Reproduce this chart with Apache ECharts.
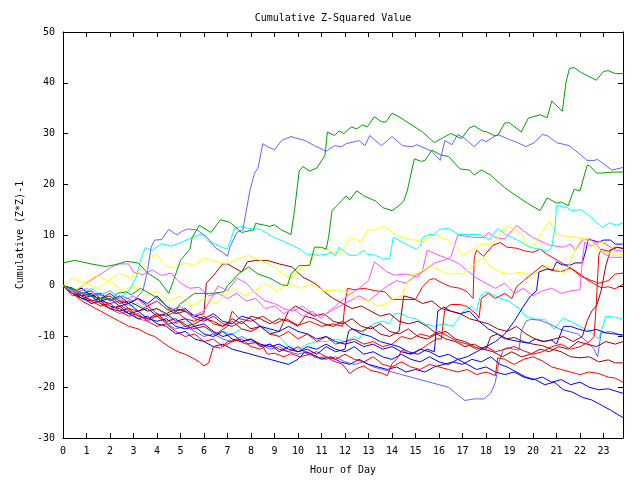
<!DOCTYPE html>
<html><head><meta charset="utf-8">
<script src="https://cdn.jsdelivr.net/npm/echarts@6/dist/echarts.min.js"></script>
<style>html,body{margin:0;padding:0;background:#fff}#c{width:640px;height:480px}</style>
</head><body><div id="c"></div>
<script>
const titleText = "Cumulative Z-Squared Value";
const xName = "Hour of Day";
const yName = "Cumulative (Z*Z)-1";
const xTicks = [0,1,2,3,4,5,6,7,8,9,10,11,12,13,14,15,16,17,18,19,20,21,22,23];
const yTicks = [-30,-20,-10,0,10,20,30,40,50];

const G1 = [[0,4.5],[0.5,5],[1.2,4.3],[1.8,3.8],[2.3,4.2],[2.7,4.8],[3.2,4.5],[3.6,2.5],[4.1,1],[4.5,-1.5],[4.7,1],[5.0,5],[5.4,7.2],[5.5,9.5],[5.8,11.9],[6.3,10.5],[6.7,13],[7.1,12.5],[7.6,10.5],[8.1,11],[8.2,12.3],[8.8,11.7],[9.0,12],[9.3,11],[9.7,10.1],[9.85,14.8],[10.05,22.6],[10.2,23.5],[10.5,22.6],[10.8,23.2],[11.05,25],[11.15,25.7],[11.25,30.3],[11.55,29.6],[11.75,30.5],[11.95,30],[12.27,31.3],[12.5,30.9],[12.75,31.7],[12.95,31.3],[13.25,33.3],[13.55,32.3],[13.75,32.3],[14.0,34],[14.3,33.3],[15.3,30.3],[15.8,28.2],[16.1,29],[16.5,30],[16.95,29],[17.3,31.1],[17.5,31.5],[17.85,30.5],[18.05,30.3],[18.35,29.6],[18.5,29.6],[18.8,32.1],[19.0,32.1],[19.5,30.3],[19.8,33],[20.3,33.7],[20.6,33.1],[20.8,36.4],[21.25,34.4],[21.4,40],[21.55,42.8],[21.75,43],[22.05,42],[22.7,40.5],[23.0,42.2],[23.2,42.4],[23.5,41.8],[23.83,41.8]];
const G2 = [[0,0],[0.5,-0.8],[0.9,-1.5],[1.5,-2.5],[2.1,-2.7],[2.3,-1.5],[2.7,-1.2],[2.9,-1.8],[3.3,-0.5],[3.9,-2.1],[4.3,-3.5],[4.75,-5.6],[4.95,-3.7],[5.25,-2.7],[5.6,-1.5],[6.35,-1.5],[6.85,-1.2],[7.0,0],[7.5,2.5],[7.9,3.7],[8.3,2.3],[8.8,1.5],[9.3,0.2],[9.55,0],[9.7,2.3],[10.05,4],[10.5,4],[10.7,7.6],[11.0,7.6],[11.2,7.2],[11.3,9.5],[11.45,14.8],[11.7,16],[12.05,17.7],[12.2,16.9],[12.5,18.7],[12.8,17.7],[13.3,16.7],[13.6,15.4],[14.0,14.8],[14.3,15.8],[14.5,16.7],[14.65,18.7],[14.95,25],[15.0,25],[15.25,24.5],[15.4,24.7],[15.7,26.7],[16.1,25.7],[16.4,25.5],[16.9,23],[17.3,22.8],[17.5,21.8],[17.8,22.8],[18.2,21.8],[18.8,19.3],[19.3,17.7],[19.75,16.3],[20.3,14.8],[20.6,17.3],[21.0,16.3],[21.2,16.5],[21.5,15.8],[21.75,19],[22.0,18.7],[22.3,23.7],[22.4,23.7],[22.7,22.2],[22.9,22.2],[23.4,22.4],[23.83,22.4]];
const LB1 = [[0,0],[0.5,-1],[1,-2],[1.5,-1.5],[2,-3],[2.5,-2],[3,-3],[3.4,-1],[3.6,3],[3.75,7.6],[3.9,9],[4.2,9.1],[4.5,11.1],[4.85,10],[5.05,10.7],[5.3,11.2],[5.7,11],[6.1,9.7],[6.5,7.4],[6.8,6.6],[7.0,5.8],[7.1,7.6],[7.4,10.5],[7.65,11],[7.8,14.8],[7.95,18.7],[8.15,22.2],[8.3,23.2],[8.5,28],[8.7,27.4],[9.0,26.8],[9.3,28.6],[9.7,29.4],[10.3,28.6],[10.7,27.6],[11.2,26.5],[11.55,27.6],[11.85,27.4],[12.05,28],[12.6,28.6],[12.85,27.6],[13.05,29.6],[13.55,27.6],[14.0,29.4],[14.45,27.6],[14.85,27.4],[15.05,27.8],[15.7,26.5],[16.05,24.7],[16.25,28.6],[16.55,27.8],[16.8,29.8],[17.1,29],[17.5,27.4],[17.8,28.8],[18.0,28.4],[18.5,29.8],[19.0,28.8],[19.35,28.2],[19.7,27.4],[20.05,28.2],[20.4,29.8],[20.6,29.6],[21.0,28.2],[21.55,27.6],[22.05,25.7],[22.3,24.7],[22.6,24.7],[22.75,24.9],[23.15,23.5],[23.35,22.8],[23.83,23.3]];
const C1 = [[0,0],[0.4,-1],[0.8,-1.5],[1.2,-0.5],[1.6,-2],[2.0,-1],[2.4,-2.5],[2.8,-1],[3.1,1.5],[3.3,5],[3.5,7.5],[3.8,7],[4.2,8.3],[4.6,7.8],[5.0,8.5],[5.5,9.5],[5.9,10.2],[6.2,8.7],[6.5,8.2],[6.8,7.5],[7.0,7.2],[7.3,11.3],[7.6,11.7],[7.9,11.3],[8.4,11.1],[8.8,10],[9.2,9.1],[9.65,8.2],[10.1,7.2],[10.35,6.2],[10.6,6.2],[10.8,6],[11.2,6.2],[11.4,6.6],[11.6,6],[11.75,7.6],[11.9,7],[12.2,6],[12.5,6],[12.8,7],[12.95,6.2],[13.3,6],[13.6,5.3],[13.9,5.3],[14.05,9.5],[14.25,9.1],[14.6,8.2],[15.05,7.2],[15.2,7.9],[15.3,9.5],[15.6,10.1],[15.8,10.1],[16.0,11.1],[16.4,11.3],[16.85,10.1],[17.3,10.1],[17.7,10.1],[18.15,9.1],[18.5,11.3],[18.85,10.1],[19.3,9.1],[19.65,8.2],[19.85,7.6],[20.3,7.2],[20.6,6.8],[20.8,7.6],[20.95,12],[21.0,15.8],[21.45,15.4],[21.65,14.8],[22.05,15],[22.5,13.4],[22.95,11.5],[23.25,12.4],[23.55,11.9],[23.83,12.4]];
const Y1 = [[0,0],[0.4,1.5],[0.9,0.5],[1.4,2],[1.9,1],[2.4,2.5],[2.9,1.5],[3.3,3.5],[3.7,5.5],[4.0,6.2],[4.3,4],[4.8,3.5],[5.2,4.5],[5.6,4],[6.0,5.5],[6.5,4.8],[7.0,4.3],[7.4,5.2],[7.9,6],[8.4,5],[8.9,4],[9.3,2.5],[9.7,1.5],[10.0,3],[10.2,3.7],[10.5,4.3],[10.7,6.2],[10.8,7.2],[11.2,7.2],[11.4,6.6],[11.85,6.6],[12.0,7.6],[12.2,9.5],[12.5,9.1],[12.7,8.6],[12.95,11],[13.25,11],[13.6,11.7],[13.9,11.1],[14.2,9.9],[14.5,9.5],[14.8,9.1],[15.0,9],[15.3,8.6],[15.7,9.9],[15.9,10],[16.1,9.5],[16.4,9],[16.8,7.4],[17.0,6],[17.4,7],[17.8,8.2],[18.1,8.2],[18.4,8.8],[18.6,10.3],[18.9,11.9],[19.2,11.1],[19.5,10.3],[19.8,7.6],[20.1,8.2],[20.3,9.9],[20.7,12.8],[21.0,10.1],[21.5,9.7],[22.05,9.5],[22.3,9.3],[22.6,8.2],[23.0,8.6],[23.4,7.8],[23.83,8]];
const Y2 = [[0,0],[0.5,-1],[1,0.5],[1.5,-0.5],[2,1],[2.5,-1],[3,0],[3.5,-2],[4,-1],[4.5,-3],[5,-2],[5.5,-4],[6,-2.5],[6.5,-3.5],[7,-1.5],[7.3,-0.5],[7.7,-2],[8.2,-1],[8.6,0.5],[9.1,-1],[9.6,0.5],[10.1,-0.5],[10.6,0.3],[11.1,-1],[11.7,-0.8],[12.2,-1.5],[12.6,-2.7],[13.0,-2.9],[13.4,-4],[13.8,-3.5],[14.1,-2.5],[14.4,-2.1],[14.6,0],[14.8,2.1],[15.2,2.7],[15.6,3.9],[16.0,3.2],[16.4,2.3],[16.8,2.5],[17.0,2.3],[17.4,3.7],[17.6,4.7],[17.9,5.6],[18.2,3.7],[18.6,2.7],[19.0,2.3],[19.5,2.7],[19.9,1.8],[20.2,2.7],[20.5,3.7],[20.9,3.7],[21.3,2.3],[21.5,3.7],[21.7,6.2],[22.05,9.5],[22.4,8.5],[22.8,7],[23.2,6.5],[23.5,6],[23.83,6.2]];
const M1 = [[0,0],[0.5,-1],[1,0.5],[1.5,2],[2,3.5],[2.3,4.3],[2.8,4.3],[3.0,2.7],[3.4,2.2],[3.8,3.1],[4.2,2],[4.6,2.5],[5.0,0.5],[5.4,-0.5],[5.8,-0.3],[6.2,-2],[6.6,-1.5],[7.0,-2.5],[7.4,-1.5],[7.8,-3],[8.2,-2.5],[8.6,-4.5],[9.0,-4],[9.4,-5.5],[9.8,-4.5],[10.2,-6],[10.6,-5],[11.0,-6.5],[11.3,-5],[11.6,-4],[12.1,-2],[12.6,-0.5],[13.0,1],[13.25,4.7],[13.8,2.7],[14.1,2.1],[14.6,2.3],[15.1,1.7],[15.3,3],[15.5,7],[15.7,6.6],[16.0,6],[16.4,5.3],[16.8,4.5],[17.2,3],[17.6,1.5],[18.0,0.5],[18.4,-0.5],[18.8,0.5],[19.2,-1.5],[19.6,-0.5],[20.0,-2],[20.4,-1],[20.8,-0.5],[21.2,-1.5],[21.6,-1],[22.0,-0.8],[22.1,5],[22.2,8.6],[22.5,7.8],[22.8,8.8],[23.1,8.2],[23.5,7.0],[23.83,6.8]];
const M2 = [[0,0],[0.5,-1.5],[1,-0.5],[1.5,-2],[2,-1],[2.5,-3],[3,-2],[3.5,-4],[4,-3],[4.5,-5],[5,-4],[5.5,-6],[6,-5],[6.3,-2.5],[6.6,0],[7.0,-1],[7.4,1.5],[7.8,0.5],[8.2,-1.5],[8.6,-3],[9.0,-3.5],[9.4,-4.5],[9.8,-5],[10.2,-4],[10.6,-5.5],[11.0,-6],[11.4,-5],[11.8,-4],[12.2,-3],[12.6,-2],[13.0,-3],[13.4,-1.5],[13.8,0],[14.2,1],[14.6,0.5],[15.0,2],[15.4,3],[15.8,4.5],[16.2,5],[16.5,5.6],[16.8,10],[17.1,9.8],[17.5,9.5],[17.9,9.5],[18.1,10.5],[18.4,9.5],[18.8,9.2],[19.3,11.9],[19.6,10.8],[20.0,9.5],[20.7,8],[21.3,7.6],[21.6,8.2],[21.8,7],[22.1,9],[22.4,9.3],[22.7,8.2],[23.0,6.4],[23.3,5.6],[23.83,5.6]];
const R1 = [[0,0],[0.4,-1.5],[0.8,-3],[1.2,-4],[1.6,-5],[2.0,-6],[2.4,-7],[2.8,-8],[3.2,-8.5],[3.6,-9.5],[3.9,-10],[4.2,-11],[4.5,-12],[4.9,-13],[5.2,-13.5],[5.5,-14.2],[5.8,-15],[6.0,-15.8],[6.2,-15.2],[6.4,-12],[6.7,-12.3],[7.0,-11],[7.4,-10.7],[7.8,-11.5],[8.2,-11.2],[8.5,-12],[8.7,-13.5],[9.0,-13.3],[9.4,-14],[9.7,-13.4],[10.1,-14],[10.5,-13.5],[10.8,-14.2],[11.2,-14],[11.5,-14.8],[11.9,-15.5],[12.2,-17.3],[12.5,-16.3],[12.8,-15.8],[13.1,-16.7],[13.5,-17.1],[13.8,-17.7],[14.0,-15.4],[14.2,-14.4],[14.45,-12.6],[14.65,-13.3],[14.9,-13.4],[15.3,-12.3],[15.6,-11.3],[15.9,-10.5],[16.1,-10.5],[16.25,-4.5],[16.5,-3.7],[16.9,-3.7],[17.2,-4.1],[17.6,-5.6],[17.7,-6.4],[17.8,-2.5],[18.1,-1.5],[18.4,-2.5],[18.8,-1.5],[19.1,-2.5],[19.3,-0.2],[19.6,1],[20.0,2.5],[20.4,4],[20.8,3],[21.2,2.8],[21.6,3.5],[22.0,2],[22.4,1.2],[22.8,0.5],[23.2,1],[23.5,2.3],[23.83,2.5]];
const R2 = [[0,0],[0.5,-1.2],[1,-2.5],[1.5,-3.2],[2,-4.5],[2.5,-4],[3,-5.5],[3.5,-6.5],[4,-6],[4.5,-7.5],[5,-7],[5.5,-8.5],[6,-8],[6.5,-9.5],[7,-8],[7.2,-5],[7.5,-6.5],[8,-7],[8.5,-6],[9,-7.5],[9.5,-6.5],[10,-7.8],[10.5,-7],[11,-8],[11.5,-7.5],[11.9,-8],[12.0,-3.5],[12.1,-0.5],[12.4,-0.8],[12.8,-0.5],[13.3,-1],[13.7,-1.2],[14.0,-2.7],[14.4,-2.7],[15.0,-2.7],[15.3,-0.2],[15.6,1.2],[15.8,1.4],[16.2,0.4],[16.5,-0.2],[16.9,-0.5],[17.2,-1.2],[17.45,-2.5],[17.5,5.6],[17.6,7],[17.9,5.8],[18.3,8],[18.6,8.5],[18.9,7.6],[19.3,7.4],[19.7,6.8],[20.0,6.6],[20.3,7.2],[20.6,6.2],[20.9,5.4],[21.3,4.3],[21.6,3.5],[22.0,2.3],[22.3,1.2],[22.6,0.4],[22.9,-0.4],[23.2,-0.2],[23.5,-0.6],[23.83,0.3]];
const R3 = [[0,0],[0.4,-1],[0.8,-2],[1.2,-1.5],[1.6,-3],[2.0,-3.5],[2.4,-3],[2.8,-4.5],[3.2,-5],[3.6,-4],[4.0,-5.5],[4.4,-6],[4.8,-5],[5.2,-6.5],[5.6,-7],[6.0,-6],[6.4,-7.5],[6.8,-8],[7.2,-7],[7.6,-8.5],[8.0,-9],[8.4,-8],[8.8,-9.5],[9.2,-10],[9.6,-9],[10.0,-10.5],[10.4,-9.5],[10.8,-11],[11.2,-10],[11.6,-11.5],[12.0,-11],[12.4,-10.5],[12.8,-11.5],[13.2,-11],[13.6,-12],[14.0,-11.5],[14.4,-10],[14.8,-10.5],[15.2,-9.5],[15.6,-10],[16.0,-9],[16.4,-10],[16.8,-11],[17.2,-11.5],[17.6,-12.5],[18.0,-12],[18.4,-13],[18.8,-12.5],[19.2,-12],[19.6,-12.8],[20.0,-13.5],[20.4,-13],[20.8,-12],[21.2,-11.5],[21.6,-12.5],[22.0,-12],[22.4,-11],[22.6,-10],[22.7,-3],[22.8,6],[22.9,7.2],[23.2,6.8],[23.5,7.6],[23.83,7.4]];
const R4 = [[0,0],[0.4,-2],[0.8,-1.5],[1.2,-3],[1.6,-4],[2.0,-3.5],[2.4,-5],[2.8,-6],[3.2,-5.5],[3.6,-7],[4.0,-8],[4.4,-7.5],[4.8,-9],[5.2,-10],[5.6,-9.5],[6.0,-11],[6.4,-10.5],[6.8,-12],[7.2,-11],[7.6,-10.5],[8.0,-12],[8.4,-12.5],[8.8,-11.5],[9.2,-12.5],[9.6,-13],[10.0,-12],[10.4,-13.5],[10.8,-13],[11.2,-14],[11.6,-14.5],[12.0,-13.5],[12.4,-14.5],[12.8,-15],[13.2,-14],[13.6,-15.5],[14.0,-16],[14.4,-15],[14.8,-16],[15.2,-16.5],[15.6,-15.5],[16.0,-16],[16.4,-16.5],[16.8,-17],[17.2,-16.5],[17.6,-17.5],[18.0,-17],[18.4,-17.7],[18.5,-14.2],[18.8,-14.5],[19.2,-15.5],[19.6,-14.5],[20.0,-14],[20.4,-14.8],[20.8,-16],[21.2,-16.5],[21.6,-17],[22.0,-17.5],[22.4,-17],[22.8,-17.3],[23.2,-18],[23.5,-18.2],[23.83,-19]];
const D1 = [[0,0],[0.4,-0.5],[0.8,-1.5],[1.2,-1],[1.6,-2.5],[2.0,-2],[2.4,-3.5],[2.8,-3],[3.2,-4],[3.6,-5],[4.0,-4.5],[4.4,-5.5],[4.8,-4.5],[5.2,-5],[5.6,-6],[6.0,-5.5],[6.1,0.5],[6.4,2],[6.8,4.3],[7.0,4.3],[7.3,3.5],[7.6,2.7],[7.85,4.7],[8.2,5],[8.7,5],[9.2,4.3],[9.75,3.7],[10.2,1.7],[10.5,1],[10.8,0.2],[11.2,-1.5],[11.5,-2.5],[11.9,-3.5],[12.3,-4.5],[12.7,-4],[13.1,-5],[13.5,-6],[13.9,-5.5],[14.3,-7],[14.7,-7.5],[15.1,-7],[15.5,-8],[15.9,-9.5],[16.3,-9],[16.7,-10.5],[17.1,-11],[17.5,-12],[17.8,-12.5],[18.0,-12.5],[18.2,-10],[18.5,-9.5],[18.8,-10.5],[19.2,-10.2],[19.6,-11],[20.0,-11.5],[20.4,-11.8],[20.8,-12.5],[21.2,-13],[21.6,-14],[22.0,-14.2],[22.4,-14],[22.8,-15],[23.2,-14.6],[23.5,-15.2],[23.83,-15.2]];
const D2 = [[0,0],[0.4,-1.5],[0.8,-2],[1.2,-3.5],[1.6,-3],[2.0,-4.5],[2.4,-5],[2.8,-4.5],[3.2,-6],[3.6,-6.5],[4.0,-5.5],[4.4,-7],[4.8,-6.5],[5.2,-8],[5.6,-7.5],[6.0,-6.5],[6.4,-7],[6.8,-8],[7.2,-6.5],[7.6,-7.5],[8.0,-6],[8.4,-6.5],[8.8,-7.5],[9.2,-6.5],[9.6,-7],[10.0,-8],[10.3,-6],[10.7,-6.5],[11.1,-7.5],[11.5,-8],[11.9,-7],[12.3,-8.5],[12.7,-9],[13.1,-8],[13.5,-9.5],[13.9,-10],[14.3,-9],[14.5,-2],[14.9,-2.5],[15.3,-3.5],[15.7,-3],[16.1,-4.5],[16.5,-5],[16.9,-5.5],[17.3,-6.5],[17.7,-7],[18.1,-7.5],[18.5,-8.5],[18.9,-9],[19.3,-8],[19.7,-9.5],[20.1,-10.5],[20.5,-11],[20.9,-10.5],[21.3,-10],[21.7,-11],[22.1,-10],[22.3,-7],[22.5,-5],[22.7,-4],[22.9,-1],[23.1,4],[23.3,7],[23.6,7.6],[23.83,7.3]];
const D3 = [[0,0],[0.4,-1],[0.8,-0.5],[1.2,-2],[1.6,-2.5],[2.0,-1.5],[2.4,-3],[2.8,-3.5],[3.2,-2.5],[3.6,-4],[4.0,-3],[4.4,-4.5],[4.8,-5.5],[5.2,-5],[5.6,-6.5],[6.0,-7],[6.4,-6],[6.8,-7.5],[7.2,-8],[7.6,-7],[8.0,-8.5],[8.4,-8],[8.8,-9.5],[9.2,-9],[9.6,-5],[9.9,-4],[10.3,-5],[10.7,-6],[11.1,-5.5],[11.5,-7],[11.9,-7.5],[12.3,-6.5],[12.7,-8],[13.1,-8.5],[13.5,-7.5],[13.9,-9],[14.3,-9.5],[14.7,-8.5],[15.1,-10],[15.5,-10.5],[15.9,-9.5],[16.3,-10.5],[16.7,-11],[17.1,-12],[17.5,-11.5],[17.9,-12.5],[18.3,-13],[18.7,-14],[19.1,-13],[19.5,-14],[19.9,-13.5],[20.3,-12.5],[20.7,-13],[21.1,-12],[21.5,-12.5],[21.9,-11],[22.3,-11.5],[22.7,-12],[23.1,-11],[23.5,-11.5],[23.83,-11]];
const B1 = [[0,0],[0.4,-1.5],[0.8,-2.5],[1.2,-2],[1.6,-3.5],[2.0,-4.5],[2.4,-4],[2.8,-5.5],[3.2,-6.5],[3.6,-6],[4.0,-7.5],[4.4,-8],[4.8,-9.5],[5.2,-9],[5.6,-10.5],[6.0,-11],[6.4,-12],[6.8,-11.5],[7.2,-12.5],[7.6,-13],[8.0,-13.5],[8.4,-14],[8.8,-14.5],[9.2,-15],[9.6,-15.5],[10.0,-14.5],[10.3,-13],[10.6,-13.5],[11.0,-14.5],[11.4,-14],[11.8,-15],[12.2,-15.5],[12.6,-14.5],[13.0,-15.5],[13.4,-16],[13.8,-16.5],[14.2,-16],[14.6,-17],[15.0,-16.5],[15.4,-17],[15.8,-16],[16.2,-15.5],[16.6,-15],[17.0,-15.5],[17.4,-14.5],[17.8,-15],[18.2,-14],[18.6,-15.5],[18.9,-16],[19.3,-17],[19.7,-18],[20.1,-18.5],[20.5,-19.5],[20.9,-19],[21.3,-20.5],[21.7,-21],[22.1,-22],[22.5,-22.5],[22.9,-23.5],[23.3,-24.5],[23.83,-26]];
const B2 = [[0,0],[0.4,-1],[0.8,-0.5],[1.2,-2],[1.6,-1.5],[2.0,-3],[2.4,-2],[2.8,-3.5],[3.2,-2.5],[3.6,-3.5],[4.0,-2],[4.4,-4],[4.8,-5],[5.2,-4.5],[5.6,-6],[6.0,-6.5],[6.4,-5.5],[6.8,-7],[7.2,-7.5],[7.6,-6],[8.0,-6.5],[8.4,-8],[8.8,-8.5],[9.2,-9],[9.6,-8],[10.0,-9],[10.4,-9.5],[10.8,-10.5],[11.2,-10],[11.6,-11],[12.0,-11.5],[12.4,-11],[12.8,-12],[13.2,-11.5],[13.6,-12.5],[14.0,-12],[14.4,-13],[14.8,-13.5],[15.2,-12.5],[15.6,-13],[16.0,-14],[16.4,-13.5],[16.8,-14.5],[17.2,-14],[17.6,-13],[18.0,-12],[18.4,-11],[18.8,-9.5],[19.2,-7],[19.6,-4],[19.9,-2],[20.15,-1],[20.25,2.7],[20.6,3.3],[20.85,3.1],[21.0,4.7],[21.25,4.1],[21.6,4.1],[21.8,4.5],[22.1,4.5],[22.25,7.0],[22.35,9.1],[22.5,9.0],[22.8,8.6],[23.0,9.0],[23.3,9.0],[23.5,8.2],[23.83,8.2]];
const B3 = [[0,0],[0.4,-0.5],[0.8,-2],[1.2,-1.5],[1.6,-3],[2.0,-2.5],[2.4,-4],[2.8,-3.5],[3.2,-5],[3.6,-4.5],[4.0,-6],[4.4,-5.5],[4.8,-7],[5.2,-6.5],[5.6,-8],[6.0,-7.5],[6.4,-9],[6.8,-10],[7.2,-9.5],[7.6,-11],[8.0,-10.5],[8.4,-12],[8.8,-11.5],[9.2,-13],[9.6,-12],[10.0,-13],[10.4,-12.5],[10.8,-13.5],[11.2,-12],[11.6,-13],[12.0,-12.5],[12.15,-9],[12.3,-8.5],[12.7,-9.5],[13.1,-10],[13.5,-11],[13.9,-11.5],[14.3,-12],[14.7,-13],[15.1,-13.5],[15.5,-12.5],[15.8,-13],[15.95,-5],[16.2,-4.2],[16.5,-5],[16.9,-5.5],[17.3,-5],[17.7,-7],[18.1,-8.5],[18.5,-9.5],[18.9,-10.5],[19.4,-11],[19.8,-11.3],[20.1,-10.5],[20.4,-11],[20.8,-10.7],[21.0,-11.5],[21.3,-8],[21.6,-8],[21.9,-8.5],[22.3,-9],[22.7,-8.6],[23.1,-9.3],[23.83,-9.7]];
const B4 = [[0,0],[0.4,-1],[0.8,-2.5],[1.2,-3],[1.6,-2.5],[2.0,-4],[2.4,-4.5],[2.8,-5.5],[3.2,-5],[3.6,-6.5],[4.0,-7],[4.4,-6.5],[4.8,-8],[5.2,-8.5],[5.6,-8],[6.0,-9.5],[6.4,-10],[6.8,-9],[7.2,-10.5],[7.6,-11],[8.0,-10.5],[8.4,-11.5],[8.8,-12],[9.2,-11.5],[9.6,-12.5],[10.0,-13],[10.4,-12],[10.8,-12.5],[11.2,-11.5],[11.6,-12.5],[12.0,-13],[12.4,-12],[12.8,-13.5],[13.2,-13],[13.6,-14],[14.0,-14.5],[14.4,-13.5],[14.8,-14.5],[15.2,-15],[15.6,-14],[16.0,-15],[16.4,-15.5],[16.8,-14.5],[17.2,-15.5],[17.6,-16.5],[18.0,-16],[18.4,-17],[18.8,-17.5],[19.2,-17],[19.6,-18],[20.0,-18.5],[20.4,-18],[20.8,-19],[21.2,-18.5],[21.6,-19.5],[22.0,-19],[22.4,-20],[22.8,-20.5],[23.2,-20.3],[23.83,-21.2]];
const LB2 = [[0,0],[0.4,-1.5],[0.8,-2.5],[1.2,-3.5],[1.6,-3],[2.0,-4.5],[2.4,-5.5],[2.8,-5],[3.2,-6.5],[3.6,-7],[4.0,-6],[4.4,-7.5],[4.8,-8.5],[5.2,-8],[5.6,-9],[6.0,-10],[6.4,-9.5],[6.8,-10.5],[7.2,-11],[7.6,-10],[8.0,-11],[8.4,-11.5],[8.8,-12.5],[9.2,-12],[9.6,-13],[10.0,-13.5],[10.4,-13],[10.8,-14],[11.2,-14.5],[11.6,-14],[12.0,-15],[12.4,-15.5],[12.8,-15],[13.2,-16],[13.6,-16.5],[14.0,-17],[14.4,-17.5],[14.8,-18],[15.2,-18.5],[15.6,-19],[16.0,-19.5],[16.4,-20],[16.8,-21.5],[17.1,-22.6],[17.5,-22.3],[17.9,-22.3],[18.2,-21.2],[18.4,-19],[18.55,-15],[18.75,-12.5],[18.95,-12.2],[19.15,-12.5],[19.4,-12.7],[19.5,-9],[19.7,-7],[19.9,-6.6],[20.3,-6.8],[20.7,-7.5],[21.1,-8.5],[21.5,-9],[21.9,-9.5],[22.3,-11],[22.6,-12.5],[22.75,-14],[22.9,-9.3],[23.3,-9],[23.6,-9.5],[23.83,-10]];
const C2 = [[0,0],[0.4,-1],[0.8,-0.5],[1.2,-2],[1.6,-1.5],[2.0,-3],[2.4,-2.5],[2.8,-4],[3.2,-3.5],[3.6,-5],[4.0,-4.5],[4.4,-6],[4.8,-7.5],[5.2,-7],[5.6,-8.5],[6.0,-8],[6.4,-9.5],[6.8,-9],[7.2,-9.5],[7.6,-8.5],[8.0,-9],[8.4,-8],[8.8,-9],[9.2,-10],[9.6,-12],[10.0,-12.5],[10.4,-11.5],[10.8,-11],[11.2,-11],[11.6,-10.5],[12.0,-11],[12.4,-10],[12.6,-10.5],[12.8,-9],[13.2,-7.5],[13.6,-7],[13.9,-7.5],[14.1,-5.5],[14.4,-5.5],[14.7,-6.2],[15.0,-6.5],[15.4,-7.5],[15.8,-8],[16.2,-7.5],[16.6,-8],[16.8,-6.6],[17.1,-4.7],[17.4,-4.1],[17.6,-5],[17.75,-2.1],[18.0,-1.2],[18.3,-1.8],[18.6,-2.5],[19.0,-3.1],[19.4,-4.5],[19.7,-6],[20.1,-6.6],[20.5,-6.6],[20.9,-8.6],[21.25,-6.4],[21.6,-7],[22.0,-8],[22.4,-8.9],[22.8,-10.5],[23.1,-6],[23.5,-6.2],[23.83,-6.6]];

const seriesList = [
  ["C2", C2, "#00ffff"], ["LB2", LB2, "#6464ff"], ["B4", B4, "#0000ff"], ["B1", B1, "#0000ff"],
  ["R4", R4, "#ff0000"], ["D3", D3, "#a00000"], ["D1", D1, "#a00000"], ["R3", R3, "#ff0000"],
  ["B3", B3, "#0000ff"], ["D2", D2, "#a00000"], ["R2", R2, "#ff0000"], ["R1", R1, "#ff0000"],
  ["B2", B2, "#0000ff"], ["M2", M2, "#ff50ff"], ["M1", M1, "#ff50ff"], ["Y2", Y2, "#ffff00"],
  ["Y1", Y1, "#ffff00"], ["C1", C1, "#00ffff"], ["LB1", LB1, "#6464ff"], ["G2", G2, "#00a000"], ["G1", G1, "#00a000"]
];

const FONT = "DejaVu Sans Mono";
const chart = echarts.init(document.getElementById('c'), null, {renderer: 'canvas'});
const xMax = 23.83;
function axisCommon() {
  return {
    axisLine: {show: true, onZero: false, lineStyle: {color: '#000', width: 1}},
    axisTick: {show: true, inside: true, length: 5, lineStyle: {color: '#000'}},
    splitLine: {show: false}
  };
}
chart.setOption({
  animation: false,
  backgroundColor: '#fff',
  title: {text: titleText, left: 328, top: 8, textAlign: 'center',
    textStyle: {fontFamily: FONT, fontSize: 10, fontWeight: 'normal', color: '#000'}},
  grid: {left: 63, top: 32, right: 17, bottom: 37, containLabel: false},
  xAxis: [
    Object.assign(axisCommon(), {type: 'value', min: 0, max: xMax, interval: 1, position: 'bottom',
      name: xName, nameLocation: 'middle', nameGap: 27,
      nameTextStyle: {fontFamily: FONT, fontSize: 10, color: '#000'},
      axisLabel: {fontFamily: FONT, fontSize: 10, color: '#000', margin: 8,
        formatter: v => xTicks.includes(v) ? String(v) : ''}}),
    Object.assign(axisCommon(), {type: 'value', min: 0, max: xMax, interval: 1, position: 'top',
      axisLabel: {show: false}})
  ],
  yAxis: [
    Object.assign(axisCommon(), {type: 'value', min: -30, max: 50, interval: 10, position: 'left',
      name: yName, nameLocation: 'middle', nameGap: 38, nameRotate: 90,
      nameTextStyle: {fontFamily: FONT, fontSize: 10, color: '#000'},
      axisLabel: {fontFamily: FONT, fontSize: 10, color: '#000', margin: 8,
        formatter: v => yTicks.includes(v) ? String(v) : ''}}),
    Object.assign(axisCommon(), {type: 'value', min: -30, max: 50, interval: 10, position: 'right',
      axisLabel: {show: false}})
  ],
  series: seriesList.map(([name, data, color]) => ({
    name, type: 'line', data, showSymbol: false, symbol: 'none',
    lineStyle: {color, width: 1}, silent: true, clip: true
  }))
});
</script></body></html>
